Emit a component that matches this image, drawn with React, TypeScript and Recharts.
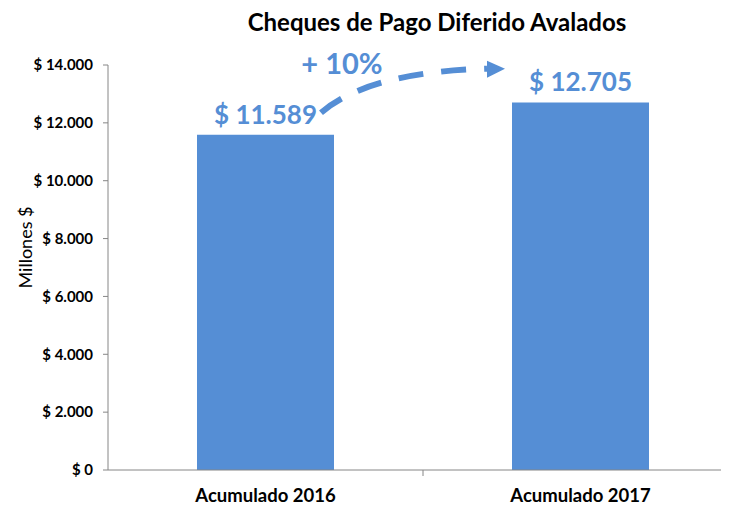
import React from 'react';
import { BarChart, Bar, XAxis, YAxis, LabelList } from 'recharts';

const categories = ['Acumulado 2016', 'Acumulado 2017'];
const amounts = [11589, 12705];
const yTicks = [0, 2000, 4000, 6000, 8000, 10000, 12000, 14000];
const growthLabel = '+ 10%';

const data = categories.map((name, i) => ({ name, value: amounts[i] }));

const BLUE = '#558ED5';
const AXIS = '#868686';
const FONT = 'Lato, "Open Sans", sans-serif';

const CHART_W = 740;
const CHART_H = 499;
const MARGIN = { top: 57, right: 10, left: 0, bottom: 7 };
const Y_WIDTH = 100;
const halfBand = (CHART_W - MARGIN.right - MARGIN.left - Y_WIDTH) / categories.length / 2;

const money = (v: number) => '$ ' + v.toString().replace(/\B(?=(\d{3})+(?!\d))/g, '.');

function XTick(props: any) {
  const { x, y, payload, index } = props;
  return (
    <g>
      {index === 0 && (
        <line x1={x + halfBand} x2={x + halfBand} y1={y - 8} y2={y - 2} stroke={AXIS} />
      )}
      <text x={x} y={y} dy={24} textAnchor="middle" fontFamily={FONT} fontWeight={700} fontSize={18.5} fill="#000">
        {payload.value}
      </text>
    </g>
  );
}

function YLabel(props: any) {
  const { viewBox } = props;
  const cx = viewBox.x + 17;
  const cy = viewBox.y + viewBox.height / 2 - 20;
  return (
    <text
      x={cx}
      y={cy}
      transform={`rotate(-90, ${cx}, ${cy})`}
      textAnchor="middle"
      dominantBaseline="central"
      fontFamily={FONT}
      fontSize={18}
      fill="#000"
    >
      Millones $
    </text>
  );
}

function ValueLabel(props: any) {
  const { x, y, width, value, index } = props;
  const cx = x + width / 2;
  return (
    <g>
      <text x={cx} y={y - 11} textAnchor="middle" fontFamily={FONT} fontWeight={700} fontSize={26} fill={BLUE}>
        {money(value)}
      </text>
      {index === 0 && (
        <g>
          <path
            d={`M ${x + width - 13} ${y - 22} Q ${x + width + 35} ${y - 63} ${x + 290} ${y - 66}`}
            fill="none"
            stroke={BLUE}
            strokeWidth={6}
            strokeDasharray="25 18"
          />
          <polygon
            points={`${x + 290},${y - 74} ${x + 308},${y - 66} ${x + 290},${y - 57}`}
            fill={BLUE}
          />
          <text x={x + width + 8} y={y - 61} textAnchor="middle" fontFamily={FONT} fontWeight={700} fontSize={29} fill={BLUE}>
            {growthLabel}
          </text>
        </g>
      )}
    </g>
  );
}

export default function App() {
  return (
    <div style={{ width: 721, height: CHART_H, overflow: 'hidden', position: 'relative', background: '#fff' }}>
      <div
        style={{
          position: 'absolute',
          top: -1,
          left: 129,
          width: 600,
          textAlign: 'center',
          fontFamily: FONT,
          fontWeight: 700,
          fontSize: 24,
          color: '#000',
          whiteSpace: 'nowrap',
        }}
      >
        Cheques de Pago Diferido Avalados
      </div>
      <BarChart width={CHART_W} height={CHART_H} data={data} margin={MARGIN}>
        <XAxis
          dataKey="name"
          axisLine={{ stroke: AXIS }}
          tickLine={false}
          tick={<XTick />}
          height={30}
          interval={0}
        />
        <YAxis
          width={Y_WIDTH}
          domain={[0, 14000]}
          ticks={yTicks}
          interval={0}
          tickFormatter={money}
          axisLine={{ stroke: AXIS }}
          tickLine={{ stroke: AXIS }}
          tickSize={5}
          tickMargin={10}
          tick={{ fontFamily: FONT, fontWeight: 700, fontSize: 15, fill: '#000' }}
          label={<YLabel />}
        />
        <Bar dataKey="value" fill={BLUE} barSize={137} isAnimationActive={false}>
          <LabelList dataKey="value" content={<ValueLabel />} />
        </Bar>
      </BarChart>
    </div>
  );
}
